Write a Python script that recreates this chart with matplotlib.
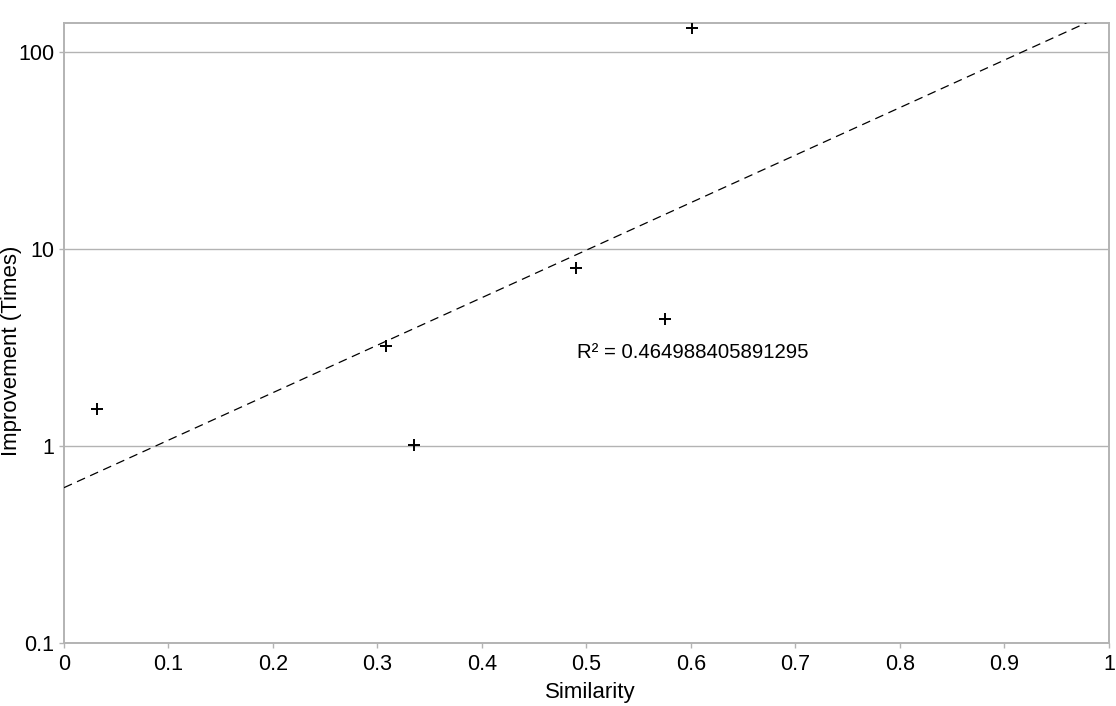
import numpy as np
import matplotlib
matplotlib.use('Agg')
import matplotlib.pyplot as plt
from matplotlib.ticker import FixedLocator, FixedFormatter, NullLocator

plt.rcParams['font.family'] = ['Liberation Sans', 'DejaVu Sans']

# data
similarity  = [0.032, 0.308, 0.335, 0.490, 0.575, 0.601]
improvement = [1.54, 3.22, 1.01, 8.0, 4.41, 131.0]

ytick_vals   = [0.1, 1, 10, 100]
ytick_labels = ['0.1', '1', '10', '100']
xtick_vals   = [0, 0.1, 0.2, 0.3, 0.4, 0.5, 0.6, 0.7, 0.8, 0.9, 1]
xtick_labels = ['0', '0.1', '0.2', '0.3', '0.4', '0.5', '0.6', '0.7', '0.8', '0.9', '1']

r2_label = 'R² = 0.464988405891295'

# exponential trend line (fit in log space)
xs = np.array(similarity)
ly = np.log(np.array(improvement))
slope, icpt = np.polyfit(xs, ly, 1)

grey = '#b3b3b3'

fig = plt.figure(figsize=(11.16, 7.06), dpi=100)
ax  = fig.add_axes([0.0573, 0.0897, 0.9364, 0.8781])

ax.set_yscale('log')
ax.set_xlim(0, 1)
ax.set_ylim(0.1, 140)

xt = np.linspace(0, 1, 200)
ax.plot(xt, np.exp(slope * xt + icpt), color='black', lw=0.9,
        dashes=(7, 4.5), zorder=3)
ax.plot(similarity, improvement, linestyle='none', marker='+', color='black',
        markersize=9, markeredgewidth=1.4, zorder=4)

ax.text(0.491, 2.97, r2_label, fontsize=14.7, va='center', ha='left')

ax.yaxis.set_major_locator(FixedLocator(ytick_vals))
ax.yaxis.set_major_formatter(FixedFormatter(ytick_labels))
ax.yaxis.set_minor_locator(NullLocator())
ax.set_xticks(xtick_vals)
ax.set_xticklabels(xtick_labels)

ax.grid(axis='y', color=grey, lw=1.0)
ax.set_axisbelow(True)
for s in ax.spines.values():
    s.set_color(grey)
    s.set_linewidth(1.4)
ax.tick_params(axis='both', colors=grey, labelcolor='black', labelsize=15.5,
               length=3.5, width=1, direction='out')
ax.tick_params(axis='x', pad=4.3)
ax.tick_params(axis='y', pad=3.6)

ax.set_xlabel('Similarity', fontsize=16)
ax.set_ylabel('Improvement (Times)', fontsize=16)
ax.xaxis.set_label_coords(0.504, -0.064)
ax.yaxis.set_label_coords(-0.040, 0.471)

fig.savefig('out.png', dpi=100)
